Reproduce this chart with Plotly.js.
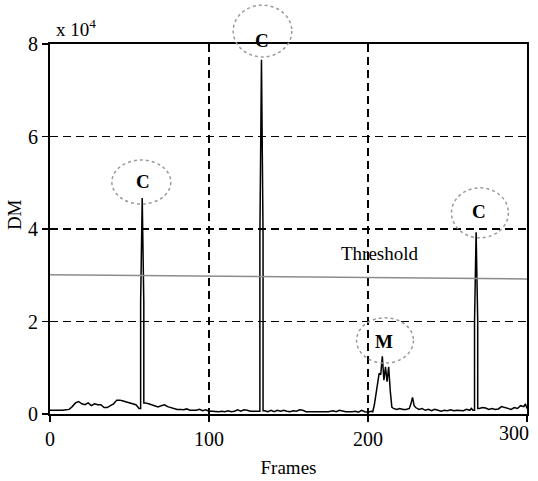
<!DOCTYPE html>
<html>
<head>
<meta charset="utf-8">
<script src="https://cdn.plot.ly/plotly-3.0.1.min.js"></script>
<style>html,body{margin:0;padding:0;background:#fff;}#chart{width:538px;height:481px;}</style>
</head>
<body>
<div id="chart"></div>
<script>
// Frame index and DM signal (x 10^4)
const frames = [0,2,4,6,8,10,12,14,16,18,20,22,24,26,28,30,32,34,36,38,40,42,44,46,48,50,52,54,55,56,57,57,58,59,59,60,62,64,66,68,70,72,74,76,78,80,82,84,86,88,90,92,94,96,98,100,102,104,106,108,110,112,114,116,118,120,122,124,126,128,130,131,132,132,133,134,134,135,137,139,141,143,145,147,149,151,153,155,157,159,161,165,170,175,178,180,182,184,186,190,192,194,196,198,200,202,203,204,205,206,207,208,209,210,211,212,213,214,215,216,218,220,222,224,226,227,228,229,230,232,234,236,238,240,242,244,246,248,250,252,254,256,258,260,262,264,265,266,267,267,268,269,269,270,272,274,276,278,280,282,284,286,288,290,292,294,296,298,299,300];
const dm = [0.08,0.08,0.07,0.08,0.08,0.09,0.10,0.16,0.24,0.27,0.22,0.20,0.24,0.18,0.22,0.20,0.20,0.14,0.14,0.18,0.22,0.30,0.30,0.28,0.26,0.24,0.22,0.20,0.16,0.12,0.12,2.40,4.67,2.40,0.24,0.24,0.22,0.20,0.18,0.15,0.18,0.20,0.16,0.14,0.13,0.10,0.10,0.09,0.11,0.08,0.08,0.08,0.10,0.07,0.09,0.06,0.06,0.05,0.05,0.06,0.05,0.07,0.05,0.06,0.09,0.06,0.09,0.08,0.06,0.06,0.07,0.06,0.06,3.85,7.66,3.85,0.07,0.07,0.05,0.08,0.05,0.08,0.06,0.08,0.06,0.05,0.07,0.06,0.09,0.08,0.05,0.05,0.05,0.05,0.07,0.05,0.08,0.06,0.05,0.05,0.06,0.04,0.08,0.05,0.04,0.06,0.05,0.20,0.45,0.60,0.88,0.85,1.25,0.73,1.02,0.70,1.02,0.50,0.15,0.12,0.10,0.12,0.10,0.10,0.12,0.22,0.36,0.18,0.14,0.10,0.12,0.08,0.10,0.07,0.10,0.08,0.06,0.08,0.07,0.09,0.07,0.08,0.08,0.07,0.10,0.08,0.12,0.08,0.08,2.00,3.93,2.00,0.12,0.12,0.14,0.13,0.10,0.12,0.10,0.11,0.16,0.14,0.12,0.10,0.14,0.12,0.18,0.16,0.22,0.12];

// Threshold line
const thresholdX = [0, 300];
const thresholdY = [3.01, 2.92];

// Tick labels
const xTicks = [0, 100, 200, 300];
const yTicks = [0, 2, 4, 6, 8];

const serif = "Liberation Serif, Times New Roman, serif";
const circleLine = {color: '#9a9a9a', width: 1.5, dash: 'dot'};
const lastX = xTicks[xTicks.length - 1];

const traces = [
  {x: frames, y: dm, type: 'scatter', mode: 'lines', line: {color: '#000', width: 1.5}, hoverinfo: 'none'},
  {x: thresholdX, y: thresholdY, type: 'scatter', mode: 'lines', line: {color: '#8c8c8c', width: 1.5}, hoverinfo: 'none'}
];

const layout = {
  width: 538, height: 481,
  margin: {l: 50, r: 11, t: 44, b: 67},
  paper_bgcolor: '#fff', plot_bgcolor: '#fff',
  showlegend: false,
  font: {family: serif, color: '#000', size: 19},
  xaxis: {
    range: [0, 300], tickvals: xTicks,
    ticktext: xTicks.map(v => v === lastX ? ' ' : String(v)),
    ticks: 'outside', ticklen: 6, tickwidth: 1.5, tickcolor: '#000',
    showline: true, linecolor: '#000', linewidth: 2, mirror: true,
    showgrid: true, gridcolor: '#000', gridwidth: 1.5, griddash: '8px,5px',
    zeroline: false, tickfont: {family: serif, size: 20},
    title: {text: 'Frames', font: {family: serif, size: 19}, standoff: 12}
  },
  yaxis: {
    range: [0, 8], tickvals: yTicks, ticktext: yTicks.map(String),
    ticks: 'outside', ticklen: 6, tickwidth: 1.5, tickcolor: '#000',
    showline: true, linecolor: '#000', linewidth: 2, mirror: true,
    showgrid: true, gridcolor: '#000', gridwidth: 1.5, griddash: '8px,5px',
    zeroline: false, tickfont: {family: serif, size: 20}
  },
  shapes: [
    {type: 'circle', xref: 'x', yref: 'y', x0: 38.9, x1: 76.0, y0: 4.54, y1: 5.49, line: circleLine},
    {type: 'circle', xref: 'paper', yref: 'paper', x0: 0.384, x1: 0.507, y0: 0.965, y1: 1.105, line: circleLine},
    {type: 'circle', xref: 'x', yref: 'y', x0: 252.5, x1: 288.3, y0: 3.81, y1: 4.89, line: circleLine},
    {type: 'circle', xref: 'x', yref: 'y', x0: 192.8, x1: 228.6, y0: 1.10, y1: 2.08, line: circleLine}
  ],
  annotations: [
    {xref: 'paper', yref: 'paper', x: 1, y: -0.052, xanchor: 'right', yanchor: 'middle', xshift: 4, text: String(lastX), showarrow: false, font: {family: serif, size: 20}},
    {xref: 'paper', yref: 'paper', x: -0.073, y: 0.538, xanchor: 'center', yanchor: 'middle', textangle: -90, text: 'DM', showarrow: false, font: {family: serif, size: 19}},
    {xref: 'paper', yref: 'paper', x: 0.008, y: 1.043, xanchor: 'left', yanchor: 'middle', text: 'x 10<sup>4</sup>', showarrow: false, font: {family: serif, size: 19}},
    {xref: 'x', yref: 'y', x: 58.4, y: 5.02, text: '<b>C</b>', showarrow: false, font: {family: serif, size: 19}},
    {xref: 'paper', yref: 'paper', x: 0.444, y: 1.043, text: '<b>C</b>', showarrow: false, font: {family: serif, size: 19}},
    {xref: 'x', yref: 'y', x: 269.5, y: 4.37, text: '<b>C</b>', showarrow: false, font: {family: serif, size: 19}},
    {xref: 'x', yref: 'y', x: 209.8, y: 1.56, text: '<b>M</b>', showarrow: false, font: {family: serif, size: 19}},
    {xref: 'x', yref: 'y', x: 207.3, y: 3.48, text: 'Threshold', showarrow: false, font: {family: serif, size: 19}}
  ]
};

Plotly.newPlot('chart', traces, layout, {displayModeBar: false, staticPlot: true});
</script>
</body>
</html>
